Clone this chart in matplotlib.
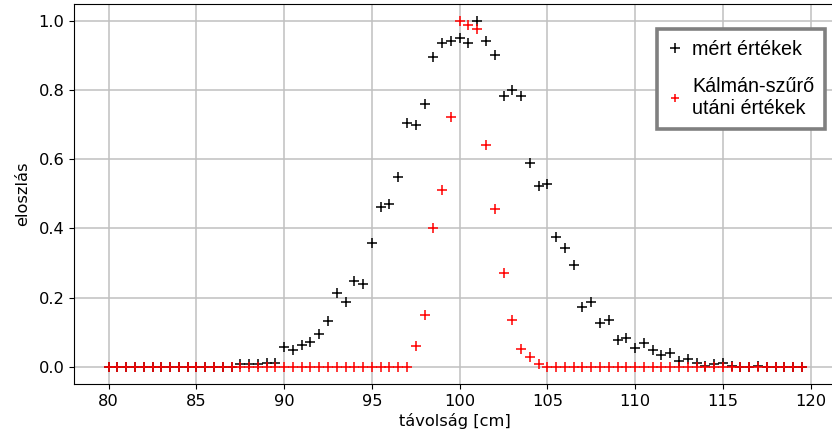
import matplotlib
matplotlib.use("Agg")
import matplotlib.pyplot as plt
import numpy as np

# distance axis [cm]
distance = np.arange(80.0, 120.0, 0.5)

# measured distribution
measured = [
    0.0, 0.0, 0.0, 0.0, 0.0, 0.0, 0.0, 0.0, 0.0, 0.0,
    0.0, 0.0, 0.0, 0.0, 0.0, 0.007, 0.007, 0.007, 0.012, 0.012,
    0.056, 0.048, 0.063, 0.072, 0.096, 0.132, 0.212, 0.188, 0.249, 0.238,
    0.357, 0.463, 0.471, 0.548, 0.706, 0.699, 0.760, 0.895, 0.937, 0.943,
    0.950, 0.937, 1.000, 0.942, 0.902, 0.783, 0.800, 0.783, 0.588, 0.524,
    0.528, 0.376, 0.342, 0.293, 0.172, 0.187, 0.127, 0.135, 0.078, 0.083,
    0.053, 0.069, 0.048, 0.035, 0.040, 0.016, 0.021, 0.010, 0.003, 0.008,
    0.012, 0.003, 0.0, 0.0, 0.003, 0.0, 0.0, 0.0, 0.0, 0.0,
]

# distribution after Kalman filtering
filtered = [
    0.0, 0.0, 0.0, 0.0, 0.0, 0.0, 0.0, 0.0, 0.0, 0.0,
    0.0, 0.0, 0.0, 0.0, 0.0, 0.0, 0.0, 0.0, 0.0, 0.0,
    0.0, 0.0, 0.0, 0.0, 0.0, 0.0, 0.0, 0.0, 0.0, 0.0,
    0.0, 0.0, 0.0, 0.0, 0.0, 0.060, 0.151, 0.402, 0.510, 0.721,
    1.000, 0.988, 0.976, 0.641, 0.455, 0.270, 0.135, 0.050, 0.027, 0.008,
    0.0, 0.0, 0.0, 0.0, 0.0, 0.0, 0.0, 0.0, 0.0, 0.0,
    0.0, 0.0, 0.0, 0.0, 0.0, 0.0, 0.0, 0.0, 0.0, 0.0,
    0.0, 0.0, 0.0, 0.0, 0.0, 0.0, 0.0, 0.0, 0.0, 0.0,
]

labels = ["mért értékek", "Kálmán-szűrő\nutáni értékek"]
xticks = [80, 85, 90, 95, 100, 105, 110, 115, 120]

W, H = 832, 441
fig = plt.figure(figsize=(W / 100, H / 100), dpi=100)
ax = fig.add_axes([74 / W, 57 / H, 762.5 / W, 380.3 / H])

ax.plot(distance, measured, "+", color="black", markersize=6.5,
        markeredgewidth=1.1, label=labels[0], zorder=3)
ax.plot(distance, filtered, "+", color="red", markersize=6.5,
        markeredgewidth=1.1, label=labels[1], zorder=4)

ax.set_xticks(xticks)
ax.set_yticks([0.0, 0.2, 0.4, 0.6, 0.8, 1.0])
ax.tick_params(labelsize=11.7)
ax.grid(True, color="#c0c0c0", linewidth=1.1)
ax.set_axisbelow(True)
ax.set_xlabel("távolság [cm]", fontsize=11.7, labelpad=3)
ax.set_ylabel("eloszlás", fontsize=11.7, labelpad=6)

leg = fig.legend(loc="upper right", bbox_to_anchor=(825 / W, 1 - 29 / H),
                 bbox_transform=fig.transFigure, borderaxespad=0,
                 fancybox=False, framealpha=1, edgecolor="#808080",
                 prop={"family": "Liberation Sans", "size": 14.2},
                 handlelength=0.8, handletextpad=0.45, labelspacing=0.9,
                 borderpad=0.55)
leg.get_frame().set_linewidth(2.6)
leg.get_texts()[1].set_linespacing(1.25)
leg.legend_handles[0].set_markersize(7)
leg.legend_handles[1].set_markersize(5.5)

fig.savefig("out.png", dpi=100)
